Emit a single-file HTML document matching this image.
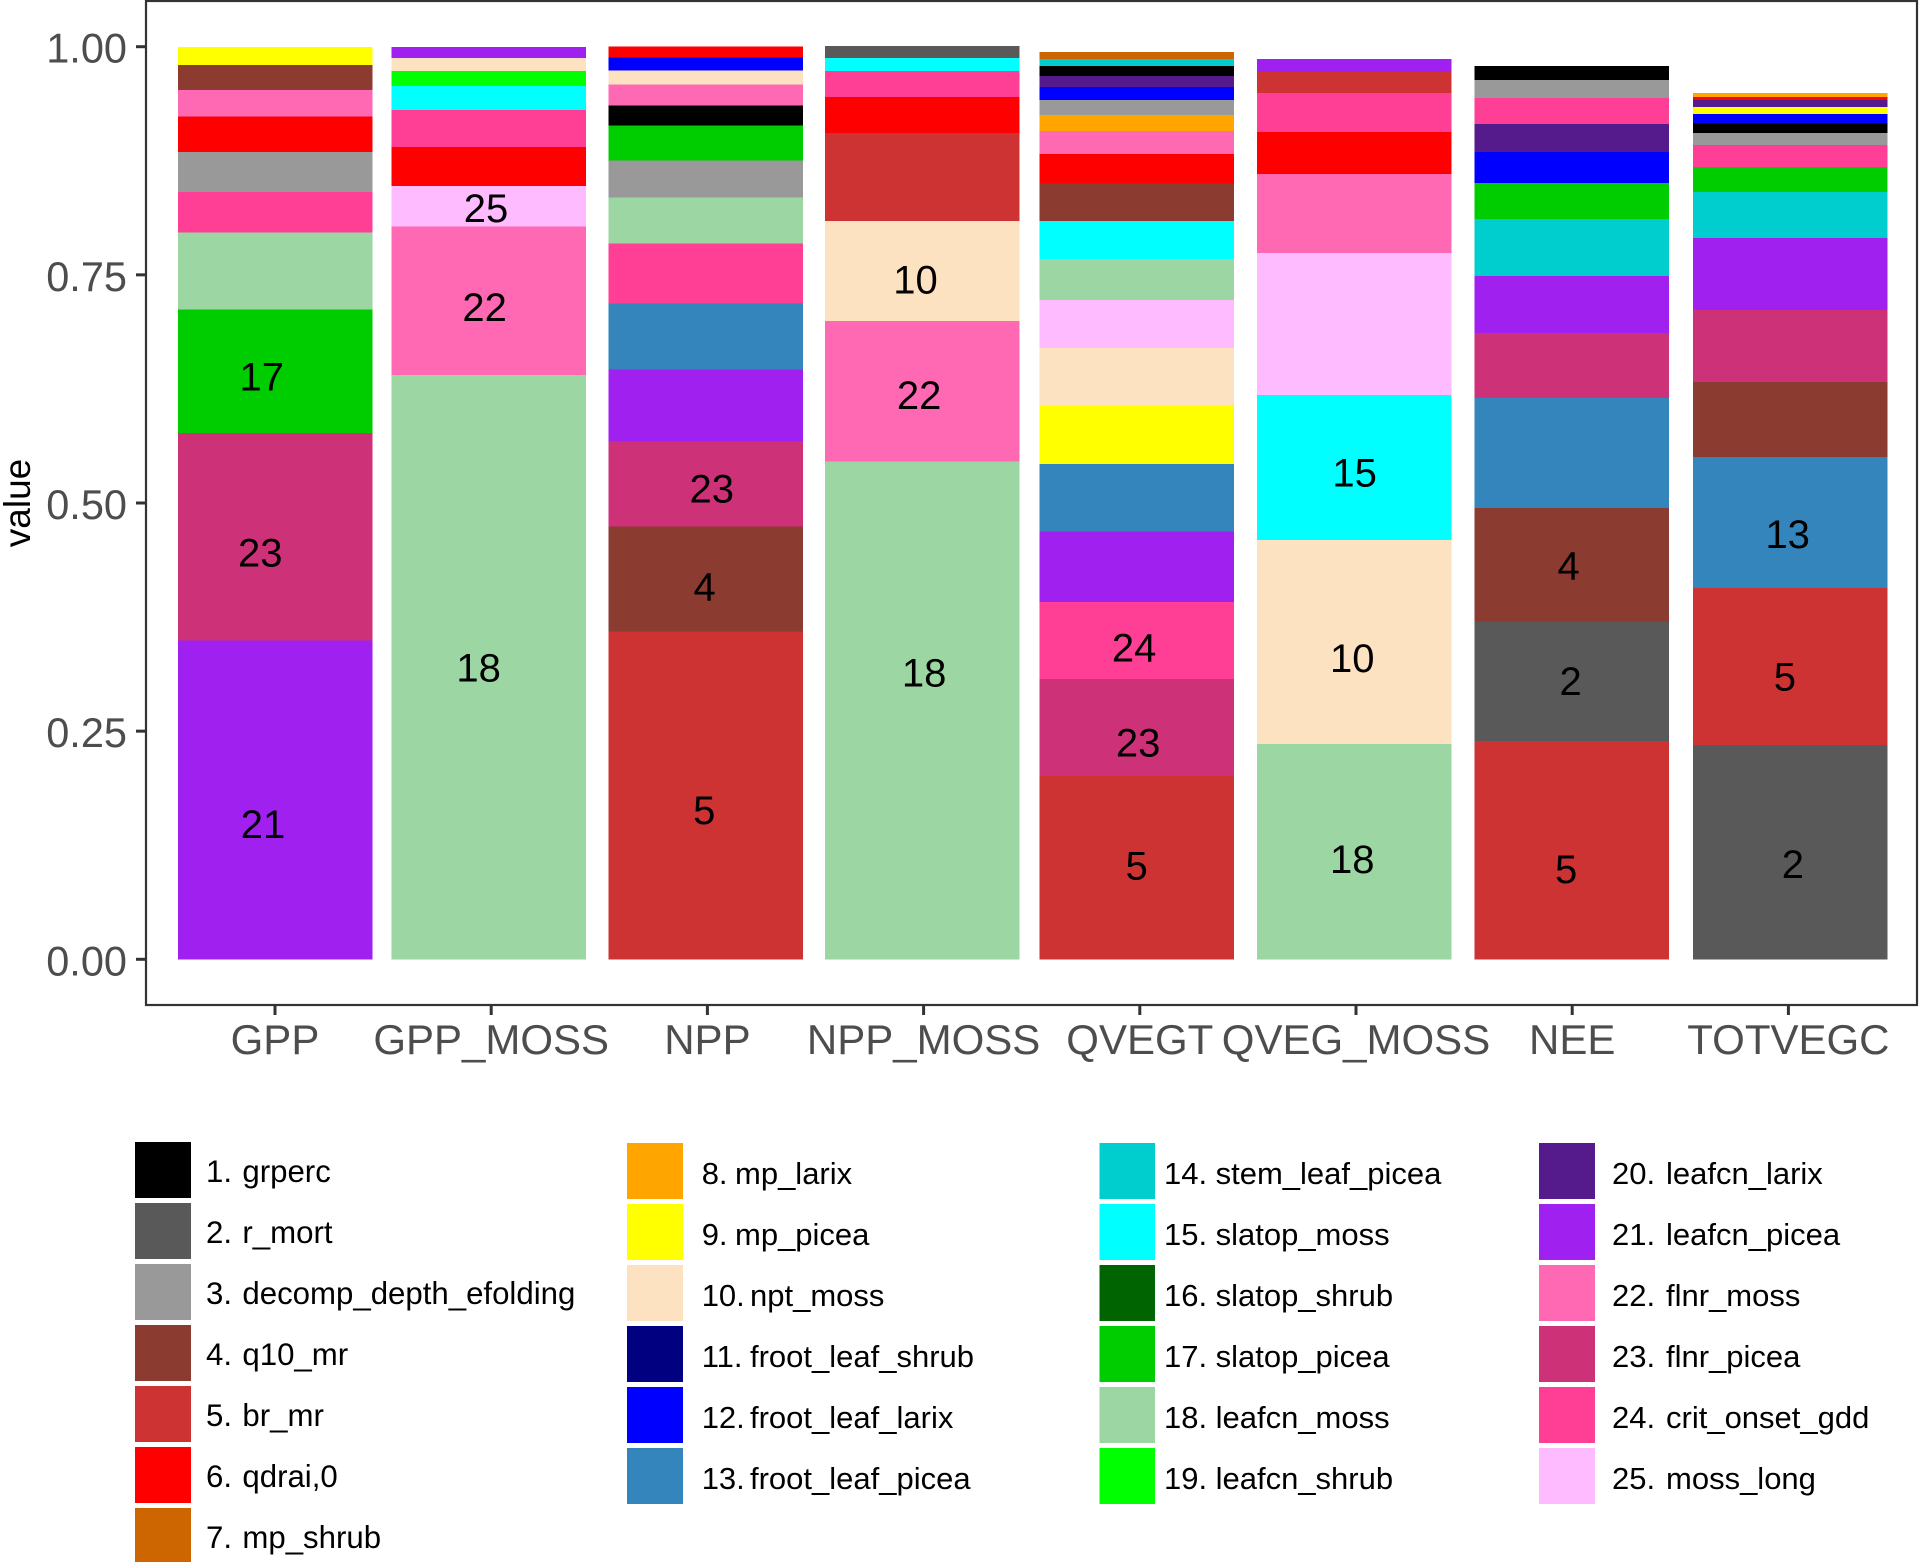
<!DOCTYPE html>
<html lang="en">
<head>
<meta charset="utf-8">
<title>Parameter contribution stacked bars</title>
<style>
  html, body { margin: 0; padding: 0; background: #fff; }
  svg { display: block; }
  text { font-family: "Liberation Sans", sans-serif; }
</style>
</head>
<body>
<svg id="chart" xmlns="http://www.w3.org/2000/svg" width="1919" height="1562" viewBox="0 0 1919 1562">
  <rect x="0" y="0" width="1919" height="1562" fill="#ffffff"/>
  <rect x="146" y="1" width="1771" height="1004" fill="#ffffff"/>
  <g id="bars"></g>
  <g id="labels"></g>
  <rect x="146" y="1" width="1771" height="1004" fill="none" stroke="#333333" stroke-width="2.2"/>
  <g id="y-axis"></g>
  <g id="x-axis"></g>
  <text transform="translate(30,503) rotate(-90)" text-anchor="middle" font-size="37" fill="#000000">value</text>
  <g id="legend"></g>
</svg>
<script>
const categories = ["GPP", "GPP_MOSS", "NPP", "NPP_MOSS", "QVEGT", "QVEG_MOSS", "NEE", "TOTVEGC"];

const yTickValues = [0, 0.25, 0.5, 0.75, 1];

const paramNames = ["grperc", "r_mort", "decomp_depth_efolding", "q10_mr", "br_mr", "qdrai,0", "mp_shrub",
  "mp_larix", "mp_picea", "npt_moss", "froot_leaf_shrub", "froot_leaf_larix", "froot_leaf_picea",
  "stem_leaf_picea", "slatop_moss", "slatop_shrub", "slatop_picea", "leafcn_moss", "leafcn_shrub",
  "leafcn_larix", "leafcn_picea", "flnr_moss", "flnr_picea", "crit_onset_gdd", "moss_long"];

const paramColors = ["#000000", "#595959", "#999999", "#8B3B30", "#CD3333", "#FF0000", "#CD6600",
  "#FFA500", "#FFFF00", "#FDE2C2", "#000080", "#0000FF", "#3385BB",
  "#00CDCD", "#00FFFF", "#006400", "#00CD00", "#9BD6A3", "#00FF00",
  "#551A8B", "#A020F0", "#FF69B4", "#CD3278", "#FF3E96", "#FFBBFF"];

/* Stack order for each bar, bottom to top (parameter numbers). */
const stackParams = [
  [21, 23, 17, 18, 24, 3, 6, 22, 4, 9],
  [18, 22, 25, 6, 24, 15, 19, 10, 21],
  [5, 4, 23, 21, 13, 24, 18, 3, 17, 1, 22, 10, 12, 6],
  [18, 22, 10, 5, 6, 24, 15, 2],
  [5, 23, 24, 21, 13, 9, 10, 25, 18, 15, 4, 6, 22, 8, 3, 12, 20, 1, 14, 7],
  [18, 10, 15, 25, 22, 6, 24, 5, 21],
  [5, 2, 4, 13, 23, 21, 14, 17, 12, 20, 24, 3, 1],
  [2, 5, 13, 4, 23, 21, 14, 17, 24, 3, 1, 12, 9, 20, 6, 8]
];

/* Stack values for each bar, in the same order as stackParams. */
const stackValues = [
  [0.3491, 0.2276, 0.1355, 0.0844, 0.0442, 0.0438, 0.0391, 0.0288, 0.0274, 0.0197],
  [0.6403, 0.1625, 0.0446, 0.0427, 0.0405, 0.0263, 0.0164, 0.0142, 0.0121],
  [0.3594, 0.1151, 0.0931, 0.0786, 0.0726, 0.0657, 0.0504, 0.0402, 0.0387, 0.0219, 0.0230, 0.0153, 0.0142, 0.0121],
  [0.5453, 0.1542, 0.1096, 0.0964, 0.0394, 0.0285, 0.0142, 0.0131],
  [0.2009, 0.1063, 0.0844, 0.0770, 0.0742, 0.0647, 0.0625, 0.0526, 0.0446, 0.0420, 0.0409, 0.0325, 0.0252, 0.0175, 0.0164, 0.0142, 0.0121, 0.0110, 0.0077, 0.0077],
  [0.2359, 0.2235, 0.1589, 0.1556, 0.0866, 0.0460, 0.0427, 0.0230, 0.0142],
  [0.2392, 0.1307, 0.1246, 0.1205, 0.0712, 0.0625, 0.0625, 0.0394, 0.0340, 0.0307, 0.0285, 0.0197, 0.0153],
  [0.2348, 0.1720, 0.1435, 0.0822, 0.0789, 0.0789, 0.0504, 0.0274, 0.0241, 0.0131, 0.0110, 0.0099, 0.0077, 0.0077, 0.0033, 0.0044]
];

/* Parameter numbers printed on top of the segments of each bar. */
const printedParams = [
  [17, 23, 21],
  [25, 22, 18],
  [23, 4, 5],
  [10, 22, 18],
  [24, 23, 5],
  [15, 10, 18],
  [4, 2, 5],
  [13, 5, 2]
];

/* Layout only: hand-placement offsets of printed numbers from their segment centres. */
const labelNudgeX = [
  [-13.2, -14.7, -12], [-5.2, -6.6, -12.6], [4.4, -2.8, -3.1], [-8.1, -4.5, 0.5],
  [-5.7, -1.7, -3.2], [-1.4, -3.7, -3.7], [-3.6, -1.6, -6.1], [-0.7, -3.5, 4.5]
];
const labelNudgeY = [
  [5.5, 15.8, 24], [2, 6.5, 0.5], [5, 8, 15], [9, 4, -38],
  [7.5, 15, -2], [5, 16, 7.5], [1, 0, 19], [11.5, 10, 12]
];

/* Layout only: each bar sits slightly off its tick in the reference. */
const barNudgeX = [0, -2.7, -1.7, -1.6, -3.3, -2, -0.6, 1.6];

const SVG_NS = "http://www.w3.org/2000/svg";
const BAR_WIDTH = 194.5;

function yScale(v) { return 959.3 - 912.6 * v; }
function xScale(i) { return 275 + 216.2 * i; }

function make(tag, parent, props) {
  const el = document.createElementNS(SVG_NS, tag);
  for (const k in props) el.setAttribute(k, props[k]);
  parent.appendChild(el);
  return el;
}

const barsGroup = document.getElementById("bars");
const labelsGroup = document.getElementById("labels");
const yAxisGroup = document.getElementById("y-axis");
const xAxisGroup = document.getElementById("x-axis");
const legendGroup = document.getElementById("legend");

/* Stacked bars and printed numbers */
categories.forEach(function (cat, i) {
  const cx = xScale(i);
  let cum = 0;
  stackParams[i].forEach(function (param, j) {
    const v = stackValues[i][j];
    const top = yScale(cum + v);
    const bottom = yScale(cum);
    const seg = make("rect", barsGroup, {
      x: cx + barNudgeX[i] - BAR_WIDTH / 2,
      y: top,
      width: BAR_WIDTH,
      height: bottom - top,
      fill: paramColors[param - 1],
      "shape-rendering": "crispEdges"
    });
    
    

    const labelIndex = printedParams[i].indexOf(param);
    if (labelIndex >= 0) {
      const label = make("text", labelsGroup, {
        x: cx + labelNudgeX[i][labelIndex],
        y: (top + bottom) / 2 + labelNudgeY[i][labelIndex] + 13.8,
        "text-anchor": "middle",
        "font-size": 40,
        fill: "#000000"
      });
      label.textContent = String(param);
      
      
    }
    cum += v;
  });
});

/* Y axis */
yTickValues.forEach(function (t) {
  const y = yScale(t);
  const tick = make("line", yAxisGroup, { x1: 136, x2: 146, y1: y, y2: y, stroke: "#333333", "stroke-width": 3 });
  
  
  const label = make("text", yAxisGroup, { x: 127, y: y + 16, "text-anchor": "end", "font-size": 41.5, fill: "#4d4d4d" });
  label.textContent = t.toFixed(2);
  
  
});

/* X axis */
categories.forEach(function (cat, i) {
  const x = xScale(i);
  const tick = make("line", xAxisGroup, { x1: x, x2: x, y1: 1005, y2: 1015, stroke: "#333333", "stroke-width": 3 });
  
  
  const label = make("text", xAxisGroup, { x: x, y: 1054, "text-anchor": "middle", "font-size": 42, fill: "#4d4d4d" });
  label.textContent = cat;
  
  
});

/* Legend: four columns, filled top to bottom */
const legendColumnCounts = [7, 6, 6, 6];
const legendSwatchX = [135, 627, 1099.5, 1539];
const legendSwatchW = [56, 56, 55.5, 56];
const legendNumberX = [206, 701.7, 1164, 1612];
const legendNameX = [242.4, 735, 1215.6, 1666];
const legendNameXTwoDigit = [242.4, 750, 1215.6, 1666];
const legendFontSize = [31.2, 31, 31, 31];
const legendTopY = [1142, 1143, 1143, 1143];
const LEGEND_STEP = 61;

let paramIndex = 0;
legendColumnCounts.forEach(function (count, col) {
  for (let row = 0; row < count; row++) {
    const top = legendTopY[col] + row * LEGEND_STEP;
    const swatch = make("rect", legendGroup, {
      x: legendSwatchX[col],
      y: top,
      width: legendSwatchW[col],
      height: 56,
      fill: paramColors[paramIndex],
      "shape-rendering": "crispEdges"
    });
    
    

    const baseline = top + (col === 0 ? 40 : 41);
    const num = make("text", legendGroup, { x: legendNumberX[col], y: baseline, "font-size": legendFontSize[col], fill: "#000000" });
    num.textContent = (paramIndex + 1) + ".";
    
    

    const nameX = paramIndex + 1 >= 10 ? legendNameXTwoDigit[col] : legendNameX[col];
    const name = make("text", legendGroup, { x: nameX, y: baseline, "font-size": legendFontSize[col], fill: "#000000" });
    name.textContent = paramNames[paramIndex];
    
    

    paramIndex++;
  }
});
</script>
</body>
</html>
